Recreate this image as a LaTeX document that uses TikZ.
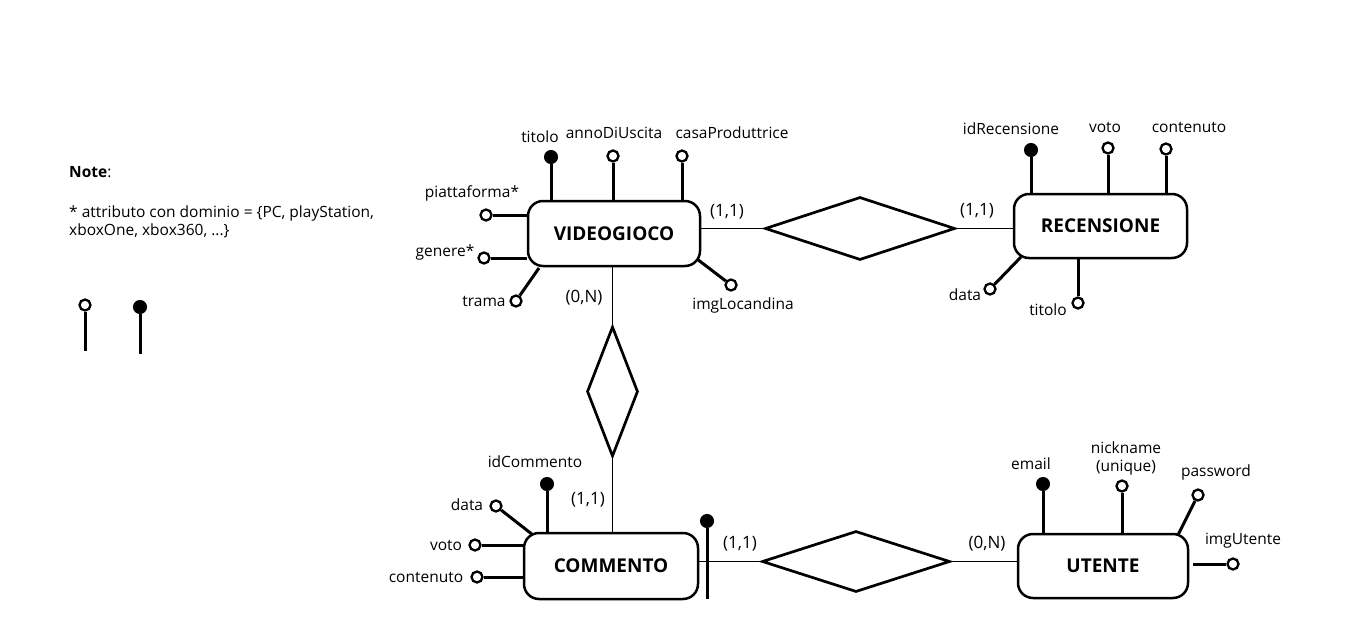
\documentclass[tikz,border=0pt]{standalone}
\usepackage{fontspec}
\setmainfont{Open Sans}
\usetikzlibrary{shapes.geometric,calc}
\begin{document}
\begin{tikzpicture}[x=1pt,y=-1pt,
 ent/.style={draw, line width=2.5, rounded corners=15, minimum height=65, inner sep=0, font=\fontsize{19}{21}\selectfont\bfseries},
 rel/.style={draw, diamond, line width=2.7, inner sep=0},
 conn/.style={line width=1.2},
 attr/.style={line width=3},
 oatt/.style={circle, draw, line width=2.3, fill=white, minimum size=11, inner sep=0},
 katt/.style={circle, draw, fill=black, line width=1, minimum size=13, inner sep=0},
 lbl/.style={font=\fontsize{15.5}{18}\selectfont, inner sep=0},
 card/.style={font=\fontsize{17}{19}\selectfont, inner sep=0},
]
\useasboundingbox (0,0) rectangle (1350,629);

% entities
\node[ent, minimum width=172] (vg) at (614,233.5) {VIDEOGIOCO};
\node[ent, minimum width=173, minimum height=64] (rc) at (1100.5,226) {RECENSIONE};
\node[ent, minimum width=174, minimum height=66] (cm) at (611,566) {COMMENTO};
\node[ent, minimum width=170, minimum height=64] (ut) at (1103,566) {UTENTE};

% relationships
\node[rel, minimum width=190, minimum height=63] (r1) at (860,228.5) {};
\node[rel, minimum width=51, minimum height=130] (r2) at (612.5,391.5) {};
\node[rel, minimum width=188, minimum height=61] (r3) at (856,561.5) {};

\draw[conn] (r1.west) -- (r1.west -| vg.east);
\draw[conn] (r1.east) -- (r1.east -| rc.west);
\draw[conn] (r2.north) -- (r2.north |- vg.south);
\draw[conn] (r2.south) -- (r2.south |- cm.north);
\draw[conn] (r3.west) -- (r3.west -| cm.east);
\draw[conn] (r3.east) -- (r3.east -| ut.west);

% cardinalities
\node[card] (c1) at (727,212) {(1,1)};
\node[card] (c2) at (977,211) {(1,1)};
\node[card] (c3) at (584,298) {(0,N)};
\node[card] (c4) at (588,500) {(1,1)};
\node[card] (c5) at (740,544) {(1,1)};
\node[card] (c6) at (987,544) {(0,N)};

% VIDEOGIOCO attributes
\node[katt] (vtit) at (551,157) {};
\node[oatt] (vann) at (613,156) {};
\node[oatt] (vcas) at (682,156) {};
\node[oatt] (vpia) at (486,215) {};
\node[oatt] (vgen) at (484,258) {};
\node[oatt] (vtra) at (516,301) {};
\node[oatt] (vimg) at (731,285) {};
\coordinate (vtraE) at (539,268);
\coordinate (vimgE) at (697,259);
\draw[attr] (vtit) -- (vtit |- vg.north);
\draw[attr] (vann) -- (vann |- vg.north);
\draw[attr] (vcas) -- (vcas |- vg.north);
\draw[attr] (vpia) -- (vpia -| vg.west);
\draw[attr] (vgen) -- (vgen -| vg.west);
\draw[attr] (vtra) -- (vtraE);
\draw[attr] (vimg) -- (vimgE);
\node[lbl] (lvtit) at (540,137) {titolo};
\node[lbl] (lvann) at (614,133) {annoDiUscita};
\node[lbl] (lvcas) at (732,133) {casaProduttrice};
\node[lbl] (lvpia) at (472,193) {piattaforma*};
\node[lbl] (lvgen) at (445,252) {genere*};
\node[lbl] (lvtra) at (484,301) {trama};
\node[lbl] (lvimg) at (743,305) {imgLocandina};

% RECENSIONE attributes
\node[katt] (rid) at (1031,150) {};
\node[oatt] (rvot) at (1108,148) {};
\node[oatt] (rcon) at (1166,149) {};
\node[oatt] (rdat) at (990,289) {};
\node[oatt] (rtit) at (1078,303) {};
\coordinate (rdatE) at (1021,257);
\draw[attr] (rid) -- (rid |- rc.north);
\draw[attr] (rvot) -- (rvot |- rc.north);
\draw[attr] (rcon) -- (rcon |- rc.north);
\draw[attr] (rdat) -- (rdatE);
\draw[attr] (rtit) -- (rtit |- rc.south);
\node[lbl] (lrid) at (1011,129) {idRecensione};
\node[lbl] (lrvot) at (1105,127) {voto};
\node[lbl] (lrcon) at (1189,127) {contenuto};
\node[lbl] (lrdat) at (965,295) {data};
\node[lbl] (lrtit) at (1048,310) {titolo};

% COMMENTO attributes
\node[katt] (cid) at (547,484) {};
\node[oatt] (cdat) at (496,506) {};
\node[oatt] (cvot) at (475,545) {};
\node[oatt] (ccon) at (477,577) {};
\coordinate (cdatE) at (533,535);
\draw[attr] (cid) -- (cid |- cm.north);
\draw[attr] (cdat) -- (cdatE);
\draw[attr] (cvot) -- (cvot -| cm.west);
\draw[attr] (ccon) -- (ccon -| cm.west);
\node[lbl] (lcid) at (535,462) {idCommento};
\node[lbl] (lcdat) at (467,505) {data};
\node[lbl] (lcvot) at (446,545) {voto};
\node[lbl] (lccon) at (426,577) {contenuto};

% external identifier
\node[katt] (cext) at (707,521) {};
\coordinate (cextE) at (707,599);
\draw[attr] (cext) -- (cextE);

% UTENTE attributes
\node[katt] (uem) at (1043,484) {};
\node[oatt] (unick) at (1122,486) {};
\node[oatt] (upw) at (1198,495) {};
\node[oatt] (uimg) at (1233,564) {};
\coordinate (upwE) at (1178,535);
\coordinate (uimgE) at (1193,564);
\draw[attr] (uem) -- (uem |- ut.north);
\draw[attr] (unick) -- (unick |- ut.north);
\draw[attr] (upw) -- (upwE);
\draw[attr] (uimg) -- (uimgE);
\node[lbl] (luem) at (1031,464) {email};
\node[lbl, align=center] (lunick) at (1126,458) {nickname\\(unique)};
\node[lbl] (lupw) at (1216,472) {password};
\node[lbl] (luimg) at (1243,541) {imgUtente};

% note
\node[lbl, anchor=west] (note) at (69,172) {\textbf{Note}:};
\node[lbl, anchor=north west, align=left] (notetxt) at (69,206) {* attributo con dominio = \{PC, playStation,\\xboxOne, xbox360, ...\}};

% legend
\node[oatt] (lego) at (85,305) {};
\node[katt] (legk) at (140,307) {};
\coordinate (legoE) at (85,351);
\coordinate (legkE) at (140,354);
\draw[attr] (lego) -- (legoE);
\draw[attr] (legk) -- (legkE);
\end{tikzpicture}
\end{document}
